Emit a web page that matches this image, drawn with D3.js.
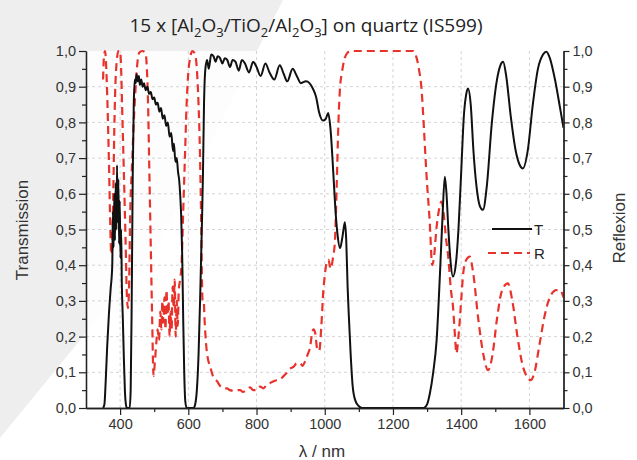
<!DOCTYPE html>
<html>
<head>
<meta charset="utf-8">
<script src="https://cdn.jsdelivr.net/npm/d3@7/dist/d3.min.js"></script>
<style>
  body { margin: 0; background: #fff; }
  svg text { font-family: "Liberation Sans", Arial, sans-serif; }
</style>
</head>
<body>
<div id="chart"></div>
<script>
// transmission T (nm, fraction)
const tWave = [350,354,358,362,367,372,377,379,381,383,385,387,389,391,393,395,397,399,401,403,405,408,411,414,417,420,428,431,434,437,440,443,446,448,452,455,458,462,466,470,475,480,485,490,495,500,505,510,515,520,525,530,535,540,545,550,555,558,562,566,570,573,576,579,582,585,588,591,595,615,620,625,630,635,640,643,646,650,655,660,667,674,680,686,693,700,707,714,722,730,738,748,757,766,778,790,800,812,826,838,852,868,880,890,906,918,930,945,955,965,975,983,995,1003,1010,1017,1025,1031,1037,1045,1052,1059,1063,1067,1071,1076,1082,1090,1100,1110,1290,1300,1308,1318,1328,1338,1345,1352,1357,1362,1368,1376,1384,1392,1400,1408,1415,1420,1428,1436,1445,1455,1464,1475,1490,1505,1515,1523,1532,1545,1560,1572,1581,1595,1610,1625,1640,1650,1660,1675,1690,1700];
const tVal = [0,0.01,0.08,0.17,0.26,0.33,0.40,0.55,0.45,0.60,0.47,0.63,0.50,0.68,0.52,0.64,0.46,0.58,0.42,0.50,0.35,0.25,0.14,0.05,0.01,0,0,0.05,0.30,0.65,0.85,0.92,0.91,0.935,0.915,0.93,0.905,0.92,0.90,0.91,0.89,0.90,0.88,0.885,0.865,0.87,0.85,0.855,0.83,0.84,0.81,0.82,0.79,0.80,0.76,0.77,0.72,0.74,0.69,0.70,0.66,0.64,0.60,0.54,0.43,0.25,0.10,0.02,0,0,0.01,0.05,0.15,0.32,0.52,0.66,0.85,0.95,0.975,0.95,0.99,0.985,0.97,0.985,0.98,0.965,0.98,0.975,0.955,0.975,0.97,0.945,0.975,0.965,0.94,0.97,0.955,0.93,0.965,0.94,0.92,0.96,0.935,0.915,0.95,0.93,0.91,0.915,0.91,0.895,0.87,0.83,0.805,0.81,0.826,0.78,0.66,0.56,0.49,0.448,0.48,0.52,0.47,0.34,0.25,0.15,0.06,0.02,0.005,0,0,0.01,0.04,0.10,0.19,0.38,0.53,0.648,0.60,0.508,0.42,0.368,0.40,0.50,0.66,0.82,0.88,0.895,0.85,0.72,0.62,0.565,0.555,0.62,0.80,0.92,0.96,0.97,0.93,0.82,0.72,0.68,0.671,0.72,0.85,0.95,0.99,0.998,0.98,0.92,0.84,0.785];

// reflexion R
const rWave = [350,353,356,359,363,367,371,374,377,380,383,386,390,395,400,403,406,411,416,420,423,426,430,435,440,445,450,456,465,474,478,482,486,490,494,498,502,506,510,514,518,521,524,527,530,533,536,539,542,545,548,551,554,557,560,563,566,569,572,576,580,585,590,595,600,605,612,620,625,630,634,638,640,642,645,648,652,657,664,672,684,695,705,713,722,735,745,752,760,770,781,790,800,811,820,830,840,850,860,869,880,890,898,908,918,928,935,942,950,957,963,967,972,978,984,990,996,1001,1006,1011,1017,1024,1030,1035,1040,1045,1050,1057,1065,1075,1260,1268,1276,1284,1291,1298,1308,1315,1320,1328,1336,1342,1348,1355,1362,1370,1376,1382,1386,1392,1400,1406,1415,1425,1435,1450,1465,1479,1492,1505,1520,1537,1550,1565,1580,1595,1604,1615,1630,1645,1660,1679,1690,1700];
const rVal = [0.92,0.99,1.0,0.96,0.85,0.70,0.52,0.43,0.45,0.60,0.78,0.90,0.97,1.0,1.0,0.95,0.84,0.66,0.47,0.31,0.28,0.33,0.56,0.68,0.80,0.89,0.96,0.995,1.0,0.995,0.96,0.85,0.65,0.45,0.25,0.09,0.13,0.18,0.22,0.19,0.27,0.22,0.30,0.24,0.31,0.22,0.33,0.26,0.30,0.20,0.27,0.22,0.34,0.28,0.36,0.20,0.30,0.23,0.33,0.36,0.40,0.55,0.70,0.85,0.94,0.98,1.0,0.99,0.95,0.85,0.72,0.50,0.36,0.30,0.30,0.24,0.18,0.14,0.116,0.09,0.075,0.06,0.055,0.055,0.05,0.048,0.05,0.05,0.045,0.05,0.058,0.05,0.05,0.06,0.055,0.065,0.07,0.075,0.078,0.08,0.09,0.10,0.11,0.115,0.125,0.125,0.118,0.13,0.15,0.17,0.21,0.22,0.21,0.165,0.16,0.23,0.33,0.378,0.41,0.415,0.39,0.42,0.47,0.62,0.797,0.90,0.937,0.975,0.993,1.0,1.0,0.985,0.95,0.89,0.78,0.658,0.518,0.40,0.42,0.508,0.56,0.578,0.55,0.48,0.424,0.33,0.284,0.20,0.153,0.20,0.30,0.378,0.415,0.424,0.38,0.25,0.15,0.106,0.15,0.25,0.33,0.349,0.30,0.20,0.12,0.085,0.078,0.10,0.18,0.26,0.31,0.33,0.33,0.31];

const xTicks = [400, 600, 800, 1000, 1200, 1400, 1600];
const xMinor = [500, 700, 900, 1100, 1300, 1500];
const yTicks = [0, 0.1, 0.2, 0.3, 0.4, 0.5, 0.6, 0.7, 0.8, 0.9, 1.0];
const yMinor = [0.05, 0.15, 0.25, 0.35, 0.45, 0.55, 0.65, 0.75, 0.85, 0.95];
const yGrid = [0.1, 0.2, 0.3, 0.4, 0.5, 0.6, 0.7, 0.8, 0.9];

const width = 637, height = 460;
const plotLeft = 86, plotRight = 563.5, plotTop = 51, plotBottom = 408;

const svg = d3.select("#chart").append("svg")
  .attr("width", width)
  .attr("height", height);

// grey background shape
svg.append("polygon")
  .attr("points", "0,0 283,0 158,245 0,438")
  .attr("fill", "#eeeeee");

const x = d3.scaleLinear().domain([300, 1700]).range([plotLeft, plotRight]);
const y = d3.scaleLinear().domain([0, 1]).range([plotBottom, plotTop]);
const fmt = d => d.toFixed(1).replace(".", ",");

// plot area
svg.append("rect")
  .attr("x", plotLeft).attr("y", plotTop)
  .attr("width", plotRight - plotLeft).attr("height", plotBottom - plotTop)
  .attr("fill", "#fff").attr("opacity", 0.85);

// grid
const grid = svg.append("g").attr("stroke", "#d4d4d4").attr("stroke-dasharray", "3,3");
grid.selectAll("line.h").data(yGrid).enter().append("line")
  .attr("x1", plotLeft).attr("x2", plotRight)
  .attr("y1", d => y(d)).attr("y2", d => y(d));
grid.selectAll("line.v").data(xTicks).enter().append("line")
  .attr("x1", d => x(d)).attr("x2", d => x(d))
  .attr("y1", plotTop).attr("y2", plotBottom);

// curves
svg.append("clipPath").attr("id", "clip").append("rect")
  .attr("x", plotLeft).attr("y", plotTop - 3)
  .attr("width", plotRight - plotLeft).attr("height", plotBottom - plotTop + 3);

const line = d3.line().curve(d3.curveMonotoneX);
const tPts = tWave.map((w, i) => [x(w), y(tVal[i])]);
const rPts = rWave.map((w, i) => [x(w), y(rVal[i])]);

svg.append("path")
  .attr("clip-path", "url(#clip)")
  .attr("d", line(rPts))
  .attr("fill", "none")
  .attr("stroke", "#e8332c")
  .attr("stroke-width", 2.2)
  .attr("stroke-dasharray", "8,5");

svg.append("path")
  .attr("clip-path", "url(#clip)")
  .attr("d", line(tPts))
  .attr("fill", "none")
  .attr("stroke", "#111")
  .attr("stroke-width", 2);

// axes
function styleAxis(g) {
  g.select(".domain").attr("stroke", "#222").attr("stroke-width", 1.3);
  g.selectAll(".tick line").attr("stroke", "#222").attr("stroke-width", 1.2);
  g.selectAll(".tick text").attr("fill", "#333").style("font-size", "14.5px");
}

svg.append("g").attr("transform", `translate(${plotLeft},0)`)
  .call(d3.axisLeft(y).tickValues(yTicks).tickFormat(fmt).tickSize(7).tickSizeOuter(0).tickPadding(3))
  .call(styleAxis);
svg.append("g").attr("transform", `translate(${plotLeft},0)`)
  .call(d3.axisLeft(y).tickValues(yMinor).tickFormat("").tickSize(4).tickSizeOuter(0))
  .call(styleAxis);

svg.append("g").attr("transform", `translate(${plotRight},0)`)
  .call(d3.axisRight(y).tickValues(yTicks).tickFormat(fmt).tickSize(6).tickSizeOuter(0).tickPadding(3))
  .call(styleAxis);
svg.append("g").attr("transform", `translate(${plotRight},0)`)
  .call(d3.axisRight(y).tickValues(yMinor).tickFormat("").tickSize(4).tickSizeOuter(0))
  .call(styleAxis);

svg.append("g").attr("transform", `translate(0,${plotBottom})`)
  .call(d3.axisBottom(x).tickValues(xTicks).tickFormat(d3.format("d")).tickSize(7).tickSizeOuter(0).tickPadding(4))
  .call(styleAxis);
svg.append("g").attr("transform", `translate(0,${plotBottom})`)
  .call(d3.axisBottom(x).tickValues(xMinor).tickFormat("").tickSize(4).tickSizeOuter(0))
  .call(styleAxis);

// axis titles
svg.append("text")
  .attr("transform", "translate(28,230) rotate(-90)")
  .attr("text-anchor", "middle")
  .attr("fill", "#333")
  .style("font-size", "17px")
  .text("Transmission");

svg.append("text")
  .attr("transform", "translate(625,228) rotate(-90)")
  .attr("text-anchor", "middle")
  .attr("fill", "#333")
  .style("font-size", "17px")
  .text("Reflexion");

svg.append("text")
  .attr("x", 322).attr("y", 457)
  .attr("text-anchor", "middle")
  .attr("fill", "#333")
  .style("font-size", "17px")
  .text("λ / nm");

// legend
const legend = svg.append("g");
legend.append("line")
  .attr("x1", 492).attr("x2", 532).attr("y1", 229).attr("y2", 229)
  .attr("stroke", "#111").attr("stroke-width", 2);
legend.append("text")
  .attr("x", 534).attr("y", 234.5).attr("fill", "#222")
  .style("font-size", "15px").text("T");
legend.append("line")
  .attr("x1", 488).attr("x2", 530).attr("y1", 253).attr("y2", 253)
  .attr("stroke", "#e8332c").attr("stroke-width", 2.2).attr("stroke-dasharray", "8,5");
legend.append("text")
  .attr("x", 534).attr("y", 258.5).attr("fill", "#222")
  .style("font-size", "15px").text("R");

// title with subscripts
const title = svg.append("text")
  .attr("x", 306).attr("y", 32)
  .attr("text-anchor", "middle")
  .attr("fill", "#222")
  .style("font-family", "'Open Sans', sans-serif")
  .style("font-size", "19px");
const parts = [["15 x [Al", 0], ["2", 1], ["O", 0], ["3", 1], ["/TiO", 0], ["2", 1], ["/Al", 0], ["2", 1], ["O", 0], ["3", 1], ["] on quartz (IS599)", 0]];
let shifted = false;
parts.forEach(([s, sub]) => {
  const ts = title.append("tspan").text(s);
  if (sub && !shifted) { ts.attr("dy", 5).style("font-size", "13px"); shifted = true; }
  else if (sub) { ts.style("font-size", "13px"); }
  else if (shifted) { ts.attr("dy", -5); shifted = false; }
});
</script>
</body>
</html>
